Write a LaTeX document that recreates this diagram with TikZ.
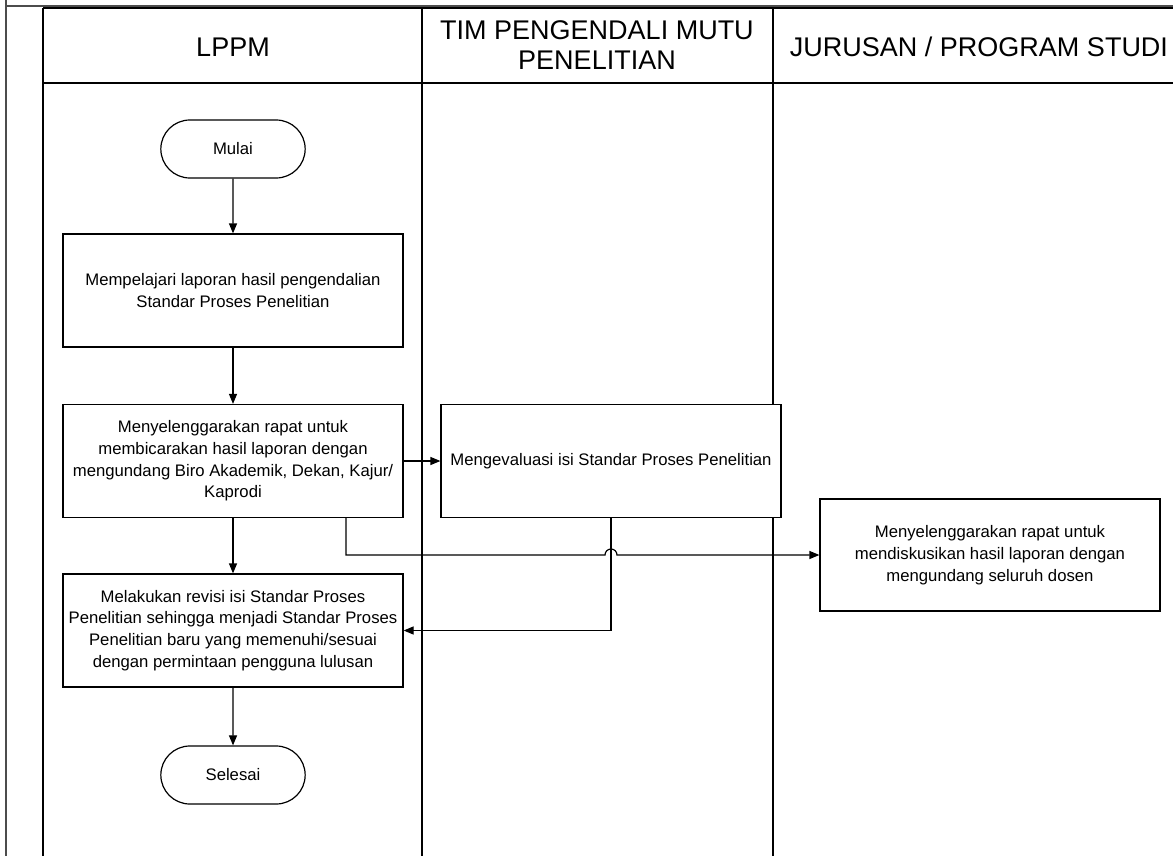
\documentclass[tikz,border=0pt]{standalone}
\usepackage{fontspec}
\setmainfont{Liberation Sans}
\usetikzlibrary{arrows.meta, positioning, shapes.misc}

\begin{document}
\begin{tikzpicture}[
    x=1pt, y=-1pt,
    every node/.style={font=\fontsize{16.7}{21.7}\selectfont},
    lanehead/.style={font=\fontsize{27}{30}\selectfont, align=center},
    procbox/.style={draw, fill=white, line width=1.2pt, minimum width=340pt, minimum height=113pt, align=center, inner sep=1pt},
    terminal/.style={draw, fill=white, rounded rectangle, line width=1.2pt, minimum width=151pt, minimum height=58pt},
    flow/.style={line width=1.2pt, -{Triangle[length=10pt,width=8pt]}},
    laneline/.style={line width=1.5pt}
]
\useasboundingbox (0,0) rectangle (1173,856);
\draw[line width=2pt, gray!60!black] (6,0) -- (6,856);
\draw[line width=2pt, gray!60!black] (6,6) -- (1173,6);
\draw[laneline] (43,8) -- (1173,8);
\foreach \x in {43,422,773}
  \draw[laneline] (\x,8) -- (\x,856);
\draw[laneline] (43,83) -- (1173,83);
\node[lanehead] (hlppm) at (233,47) {LPPM};
\node[lanehead] (htim) at (597,45) {TIM PENGENDALI MUTU\\PENELITIAN};
\node[lanehead] (hjurusan) at (979,47) {JURUSAN / PROGRAM STUDI};

\node[terminal] (mulai) at (233,149) {Mulai};
\node[procbox] (pelajari) at (233,290.5) {Mempelajari laporan hasil pengendalian\\Standar Proses Penelitian};
\node[procbox] (rapat) at (233,461) {Menyelenggarakan rapat untuk\\membicarakan hasil laporan dengan\\mengundang Biro Akademik, Dekan, Kajur/\\Kaprodi};
\node[procbox] (evaluasi) at (611,461) {Mengevaluasi isi Standar Proses Penelitian};
\node[procbox, minimum height=112pt] (diskusi) at (990,555) {Menyelenggarakan rapat untuk\\mendiskusikan hasil laporan dengan\\mengundang seluruh dosen};
\node[procbox] (revisi) at (233,630.5) {Melakukan revisi isi Standar Proses\\Penelitian sehingga menjadi Standar Proses\\Penelitian baru yang memenuhi/sesuai\\dengan permintaan pengguna lulusan};
\node[terminal] (selesai) at (233,775) {Selesai};

\coordinate (belok) at (346,555);
\coordinate (lompat) at (evaluasi.south |- belok);
\draw[flow] (mulai) -- (pelajari);
\draw[flow] (pelajari) -- (rapat);
\draw[flow] (rapat) -- (evaluasi);
\draw[flow] (rapat) -- (revisi);
\draw[flow] (rapat.south -| belok) -- (belok) -- ([xshift=-6pt]lompat) arc[start angle=180, end angle=0, radius=6pt] -- (diskusi.west);
\draw[flow] (evaluasi.south) |- (revisi.east);
\draw[flow] (revisi) -- (selesai);
\end{tikzpicture}
\end{document}
